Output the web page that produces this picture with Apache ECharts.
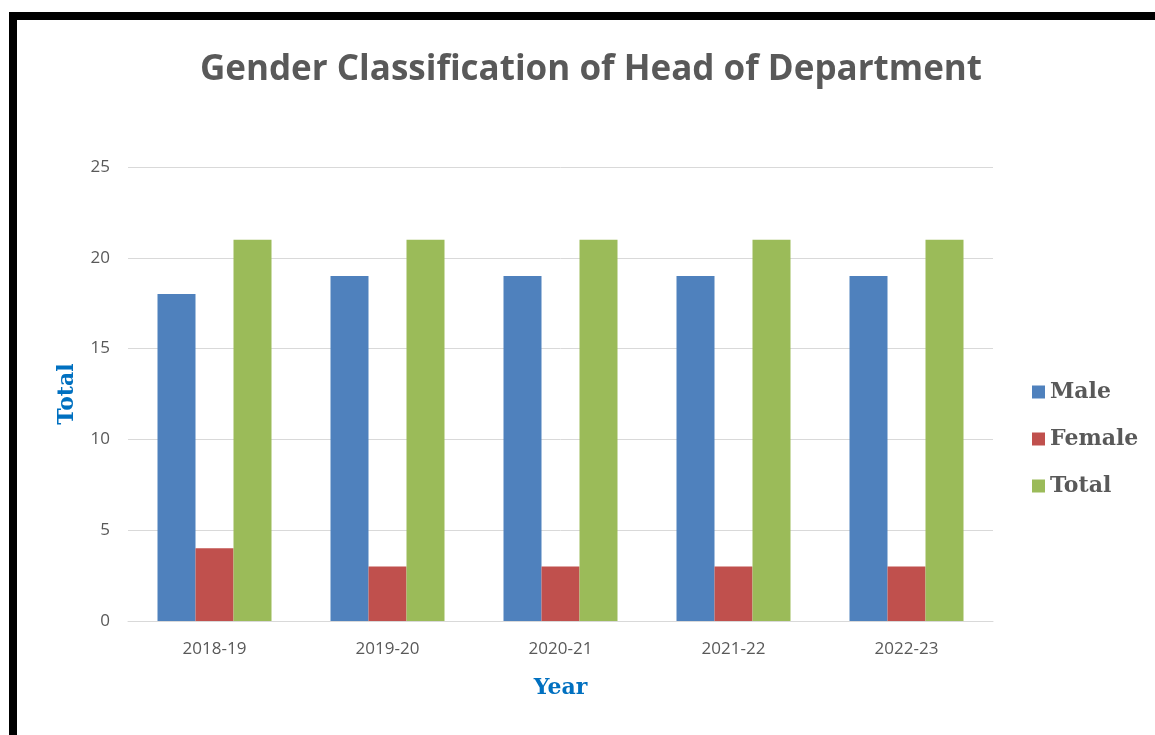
<!DOCTYPE html>
<html lang="en">
	<head>
		<meta charset="UTF-8" />
		<title>Gender Classification of Head of Department</title>
		<script src="https://cdn.jsdelivr.net/npm/echarts@6/dist/echarts.min.js"></script>
		<style>
			html, body { margin: 0; padding: 0; background: #fff; }
			#frame {
				position: absolute; left: 9px; top: 12px; width: 1146px; height: 723px;
				border-left: 8px solid #000; border-top: 8px solid #000; box-sizing: border-box;
			}
			#main { position: absolute; left: 0; top: 0; width: 1155px; height: 735px; }
		</style>
	</head>
	<body>
		<div id="frame"></div>
		<div id="main"></div>
		<script type="text/javascript">
			const years = ["2018-19", "2019-20", "2020-21", "2021-22", "2022-23"];
			const male = [18, 19, 19, 19, 19];
			const female = [4, 3, 3, 3, 3];
			const total = [21, 21, 21, 21, 21];

			const serif = "'DejaVu Serif', 'Liberation Serif', serif";
			const sans = "'Open Sans', 'Noto Sans', sans-serif";

			let chart = echarts.init(document.getElementById("main"));
			chart.setOption({
				animation: false,
				title: {
					text: "Gender Classification of Head of Department",
					left: 586, top: 48, textAlign: "center",
					textStyle: { fontFamily: sans, fontSize: 35, fontWeight: "bold", color: "#595959" },
				},
				legend: {
					orient: "vertical", left: 1027, top: 376, itemGap: 25,
					itemWidth: 13, itemHeight: 13, icon: "rect",
					textStyle: { fontFamily: serif, fontSize: 22, fontWeight: "bold", color: "#595959" },
					data: ["Male", "Female", "Total"],
				},
				grid: { left: 128, right: 162, top: 167, bottom: 114 },
				xAxis: {
					type: "category", data: years,
					name: "Year", nameLocation: "middle", nameGap: 56,
					nameTextStyle: { fontFamily: serif, fontSize: 22, fontWeight: "bold", color: "#0070C0" },
					axisLine: { lineStyle: { color: "#D9D9D9" } },
					axisTick: { show: false },
					axisLabel: { fontFamily: sans, fontSize: 17, color: "#595959", margin: 20 },
				},
				yAxis: {
					type: "value", min: 0, max: 25, interval: 5,
					name: "Total", nameLocation: "middle", nameGap: 50, nameRotate: 90,
					nameTextStyle: { fontFamily: serif, fontSize: 22, fontWeight: "bold", color: "#0070C0" },
					axisLine: { show: false }, axisTick: { show: false },
					axisLabel: { fontFamily: sans, fontSize: 17, color: "#595959", margin: 18 },
					splitLine: { lineStyle: { color: "#D9D9D9" } },
				},
				series: [
					{ name: "Male", type: "bar", data: male, barWidth: 38, barGap: "0%", itemStyle: { color: "#4F81BD" } },
					{ name: "Female", type: "bar", data: female, barWidth: 38, barGap: "0%", itemStyle: { color: "#C0504D" } },
					{ name: "Total", type: "bar", data: total, barWidth: 38, barGap: "0%", itemStyle: { color: "#9BBB59" } },
				],
			});
		</script>
	</body>
</html>
